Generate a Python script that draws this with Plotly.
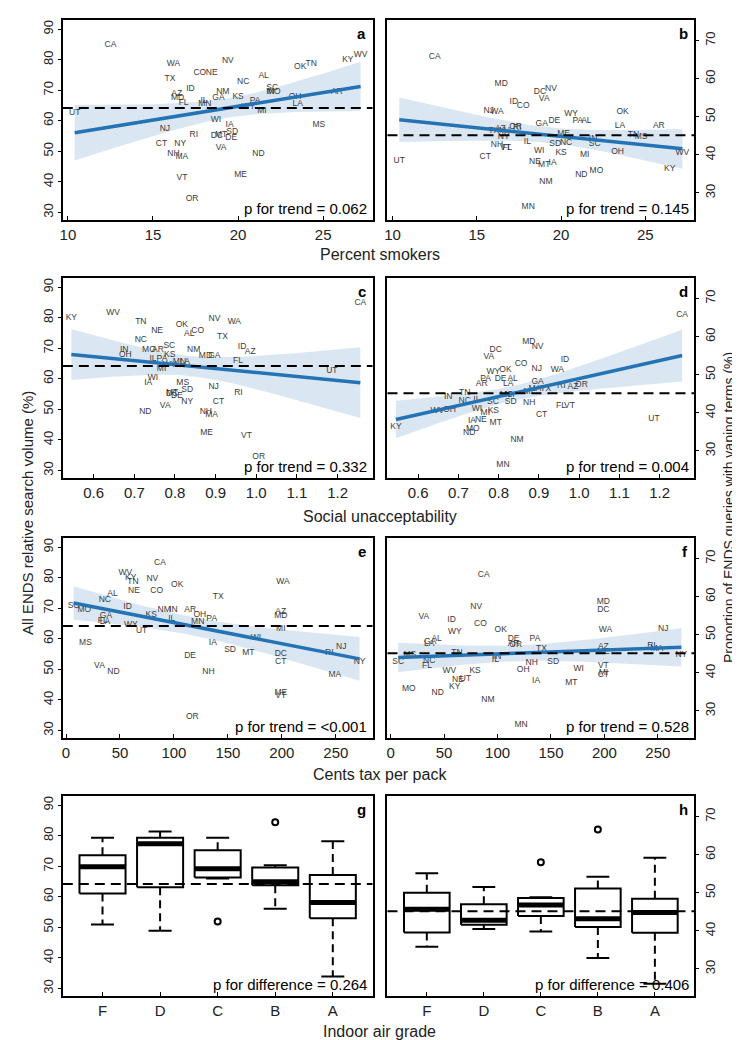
import numpy as np
import plotly.graph_objects as go

# ---- state-level data ----
states = ["AL", "AZ", "AR", "CA", "CO", "CT", "DE", "DC", "FL", "GA", "ID", "IL", "IN",
          "IA", "KS", "KY", "LA", "ME", "MD", "MA", "MI", "MN", "MS", "MO", "MT", "NE",
          "NV", "NH", "NJ", "NM", "NY", "NC", "ND", "OH", "OK", "OR", "PA", "RI", "SC",
          "SD", "TN", "TX", "UT", "VT", "VA", "WA", "WV", "WI", "WY"]

pct_smokers = [21.5, 16.4, 25.8, 12.5, 17.75, 15.5, 19.6, 18.75, 16.8, 18.85, 17.2, 18.0, 21.9,
               19.5, 20.0, 26.45, 23.5, 20.15, 16.45, 16.7, 21.4, 18.05, 24.75, 22.1, 19.0, 18.45,
               19.4, 16.2, 15.7, 19.1, 16.6, 20.3, 21.2, 23.35, 23.65, 17.3, 21.0, 17.4, 22.0,
               19.65, 24.3, 16.0, 10.4, 16.7, 19.0, 16.2, 27.2, 18.7, 20.6]

social_unacc = [0.835, 0.985, 0.758, 1.256, 0.856, 0.907, 0.805, 0.793, 0.955, 0.897, 0.965, 0.746, 0.675,
                0.734, 0.787, 0.545, 0.824, 0.878, 0.875, 0.890, 0.767, 0.811, 0.819, 0.736, 0.793, 0.756,
                0.897, 0.876, 0.895, 0.846, 0.830, 0.716, 0.727, 0.678, 0.817, 1.006, 0.768, 0.956, 0.786,
                0.830, 0.716, 0.917, 1.186, 0.976, 0.776, 0.946, 0.648, 0.746, 0.787]

cents_tax = [43, 199, 115, 87, 84, 199, 115, 199, 34, 37, 57, 98, 99.5,
             136, 79, 60, 36, 199, 199, 249, 199, 122, 18, 17, 169, 63,
             80, 132, 255, 91, 272, 36, 44, 124, 103, 117, 135, 244, 7,
             152, 62, 141, 70, 199, 31, 201, 55, 176, 60]

ends_rsv = [74.7, 68.8, 69.4, 84.8, 75.7, 52.3, 54.3, 55.2, 65.7, 67.5, 70.6, 66.6, 69.6,
            58.5, 67.7, 79.8, 65.5, 42.4, 67.5, 48.3, 63.3, 65.5, 58.5, 69.4, 55.3, 75.7,
            79.7, 49.2, 57.4, 69.5, 52.3, 72.6, 49.3, 67.8, 77.7, 34.3, 66.6, 55.3, 70.7,
            56.4, 78.6, 73.6, 62.5, 41.4, 51.2, 78.6, 81.7, 60.4, 64.7]

vape_prop = [49.0, 46.7, 47.7, 65.8, 52.8, 39.6, 48.9, 56.5, 41.9, 48.2, 53.8, 43.3, 44.1,
             37.8, 40.4, 36.4, 47.5, 45.5, 58.6, 46.3, 40.0, 26.3, 44.8, 35.8, 37.3, 38.2,
             57.4, 42.5, 51.5, 33.0, 44.6, 43.2, 34.7, 40.9, 51.2, 47.3, 48.8, 47.1, 42.8,
             42.9, 45.3, 46.4, 38.5, 41.9, 54.8, 51.4, 40.4, 41.0, 50.7]

p_trend_rsv = ["0.062", "0.332", "<0.001"]
p_trend_vape = ["0.145", "0.004", "0.528"]

# ---- box summaries by indoor air grade ----
grades = ["F", "D", "C", "B", "A"]
rsv_lo = [50.9, 48.9, 66.0, 56.1, 33.9]
rsv_q1 = [61.1, 63.1, 66.3, 63.8, 53.0]
rsv_med = [69.8, 77.4, 69.2, 64.9, 58.1]
rsv_q3 = [73.6, 79.3, 75.2, 69.6, 67.1]
rsv_hi = [79.3, 81.4, 79.3, 70.3, 78.2]
rsv_out_grade = ["C", "B"]
rsv_out_val = [51.9, 84.4]

vape_lo = [35.8, 40.5, 39.8, 32.9, 26.1]
vape_q1 = [39.6, 41.6, 43.9, 41.0, 39.5]
vape_med = [45.7, 42.8, 46.8, 43.2, 44.8]
vape_q3 = [50.0, 47.0, 48.6, 51.1, 48.4]
vape_hi = [55.1, 51.5, 48.8, 54.2, 59.2]
vape_out_grade = ["C", "B"]
vape_out_val = [58.0, 66.6]

p_diff_rsv = "0.264"
p_diff_vape = "0.406"

W, H = 740, 1040
FONT = "Liberation Sans, Arial, sans-serif"
BLUE = "#2473b5"
BAND = "rgba(36,115,181,0.17)"

col_px = [(52, 363), (378, 686)]
row_px = [(12, 212), (270, 470), (530, 730), (788, 988)]
yrange = [[27.5, 93], [22.9, 75.4]]
ytickvals = [[30, 40, 50, 60, 70, 80, 90], [30, 40, 50, 60, 70]]

xvars = [pct_smokers, social_unacc, cents_tax]
xranges = [[9.7, 27.9], [0.524, 1.286], [-3, 284]]
xticks = [[10, 15, 20, 25], [0.6, 0.7, 0.8, 0.9, 1.0, 1.1, 1.2], [0, 50, 100, 150, 200, 250]]
xtitles = ["Percent smokers", "Social unacceptability", "Cents tax per pack", "Indoor air grade"]
xtitle_y = [246, 508, 766, 1023]

fig = go.Figure()
layout = {}
shapes = []
annotations = []


def axis_names(k):
    n = k + 1
    s = "" if n == 1 else str(n)
    return "xaxis" + s, "yaxis" + s, "x" + s, "y" + s


def add_regression(xr, yr, x, y):
    x = np.asarray(x, float)
    y = np.asarray(y, float)
    n = len(x)
    b1, b0 = np.polyfit(x, y, 1)
    resid = y - (b0 + b1 * x)
    s = np.sqrt(np.sum(resid ** 2) / (n - 2))
    sxx = np.sum((x - x.mean()) ** 2)
    xs = np.linspace(x.min(), x.max(), 80)
    yh = b0 + b1 * xs
    se = s * np.sqrt(1.0 / n + (xs - x.mean()) ** 2 / sxx)
    t = 2.012  # t(0.975, 47)
    fig.add_trace(go.Scatter(
        x=np.concatenate([xs, xs[::-1]]), y=np.concatenate([yh + t * se, (yh - t * se)[::-1]]),
        fill="toself", fillcolor=BAND, line=dict(width=0), mode="lines",
        xaxis=xr, yaxis=yr, hoverinfo="skip", showlegend=False))
    return xs, yh


for k in range(8):
    row, col = k // 2, k % 2
    xname, yname, xr, yr = axis_names(k)
    x0, x1 = col_px[col]
    top, bot = row_px[row]
    yvals = ends_rsv if col == 0 else vape_prop

    if row < 3:
        xv = xvars[row]
        xs, yh = add_regression(xr, yr, xv, yvals)
        fig.add_trace(go.Scatter(
            x=xv, y=yvals, text=states, mode="text",
            textfont=dict(size=8.5, color="#3a3a3a", family=FONT),
            xaxis=xr, yaxis=yr, hoverinfo="text", showlegend=False))
        fig.add_trace(go.Scatter(
            x=xs, y=yh, mode="lines", line=dict(color=BLUE, width=3.5),
            xaxis=xr, yaxis=yr, hoverinfo="skip", showlegend=False))
        xaxis = dict(range=xranges[row], tickvals=xticks[row])
        if row == 1:
            xaxis["tickformat"] = ".1f"
        ptxt = "p for trend = " + (p_trend_rsv if col == 0 else p_trend_vape)[row]
    else:
        lo, q1, med, q3, hi = ((rsv_lo, rsv_q1, rsv_med, rsv_q3, rsv_hi) if col == 0
                               else (vape_lo, vape_q1, vape_med, vape_q3, vape_hi))
        outg, outv = (rsv_out_grade, rsv_out_val) if col == 0 else (vape_out_grade, vape_out_val)
        bw, cw = 0.4, 0.2
        bx, by, mx, my, wx, wy, cx, cy = [], [], [], [], [], [], [], []
        for i in range(len(grades)):
            bx += [i - bw, i + bw, i + bw, i - bw, i - bw, None]
            by += [q1[i], q1[i], q3[i], q3[i], q1[i], None]
            mx += [i - bw, i + bw, None]
            my += [med[i], med[i], None]
            wx += [i, i, None, i, i, None]
            wy += [q3[i], hi[i], None, q1[i], lo[i], None]
            cx += [i - cw, i + cw, None, i - cw, i + cw, None]
            cy += [hi[i], hi[i], None, lo[i], lo[i], None]
        fig.add_trace(go.Scatter(x=wx, y=wy, mode="lines", line=dict(color="black", width=2, dash="8px,5px"),
                                 xaxis=xr, yaxis=yr, hoverinfo="skip", showlegend=False))
        fig.add_trace(go.Scatter(x=cx, y=cy, mode="lines", line=dict(color="black", width=2),
                                 xaxis=xr, yaxis=yr, hoverinfo="skip", showlegend=False))
        fig.add_trace(go.Scatter(x=bx, y=by, mode="lines", line=dict(color="black", width=2),
                                 fill="toself", fillcolor="white",
                                 xaxis=xr, yaxis=yr, hoverinfo="skip", showlegend=False))
        fig.add_trace(go.Scatter(x=mx, y=my, mode="lines", line=dict(color="black", width=5),
                                 xaxis=xr, yaxis=yr, hoverinfo="skip", showlegend=False))
        fig.add_trace(go.Scatter(x=[grades.index(g) for g in outg], y=outv, mode="markers",
                                 marker=dict(symbol="circle-open", size=6, color="black", line=dict(width=2)),
                                 xaxis=xr, yaxis=yr, hoverinfo="y", showlegend=False))
        xaxis = dict(range=[-0.69, 4.69], tickvals=list(range(len(grades))), ticktext=grades)
        ptxt = "p for difference = " + (p_diff_rsv if col == 0 else p_diff_vape)

    xaxis.update(domain=[x0 / W, x1 / W], anchor=yr, showline=True, mirror=True,
                 linecolor="black", linewidth=2, ticks="inside", ticklen=4, tickcolor="black",
                 showgrid=False, zeroline=False, tickfont=dict(size=15, color="#222", family=FONT))
    yaxis = dict(domain=[1 - bot / H, 1 - top / H], anchor=xr, range=yrange[col],
                 tickvals=ytickvals[col], tickangle=-90, side="left" if col == 0 else "right",
                 showline=True, mirror=True, linecolor="black", linewidth=2, ticks="outside",
                 ticklen=3, tickcolor="black", showgrid=False, zeroline=False,
                 tickfont=dict(size=13, color="#222", family=FONT))
    layout[xname] = xaxis
    layout[yname] = yaxis

    # reference (mean) line
    mean_y = float(np.mean(yvals))
    shapes.append(dict(type="line", xref=xr + " domain", yref=yr, x0=0, x1=1,
                       y0=mean_y, y1=mean_y, line=dict(color="black", width=2, dash="10px,6px")))
    annotations.append(dict(text="<b>" + "abcdefgh"[k] + "</b>", xref=xr + " domain", yref=yr + " domain",
                            x=0.985, y=0.985, xanchor="right", yanchor="top", showarrow=False,
                            font=dict(size=15, color="black", family=FONT)))
    annotations.append(dict(text=ptxt, xref=xr + " domain", yref=yr + " domain",
                            x=0.99, y=0.005, xanchor="right", yanchor="bottom", showarrow=False,
                            font=dict(size=15, color="black", family=FONT)))

for title, ty in zip(xtitles, xtitle_y):
    annotations.append(dict(text=title, xref="paper", yref="paper", x=0.5, y=1 - ty / H,
                            xanchor="center", yanchor="middle", showarrow=False,
                            font=dict(size=16, color="#222", family=FONT)))

annotations.append(dict(text="All ENDS relative search volume (%)", xref="paper", yref="paper",
                        x=16 / W, y=1 - 505 / H, textangle=-90, showarrow=False,
                        xanchor="center", yanchor="middle", font=dict(size=15, color="#222", family=FONT)))
annotations.append(dict(text="Proportion of ENDS queries with vaping terms (%)", xref="paper", yref="paper",
                        x=721 / W, y=1 - 500 / H, textangle=-90, showarrow=False,
                        xanchor="center", yanchor="middle", font=dict(size=14, color="#222", family=FONT)))

fig.update_layout(width=W, height=H, margin=dict(l=0, r=0, t=0, b=0),
                  paper_bgcolor="white", plot_bgcolor="white",
                  font=dict(family=FONT, color="#222"), shapes=shapes, annotations=annotations,
                  showlegend=False, **layout)

fig.write_html("out.html")
